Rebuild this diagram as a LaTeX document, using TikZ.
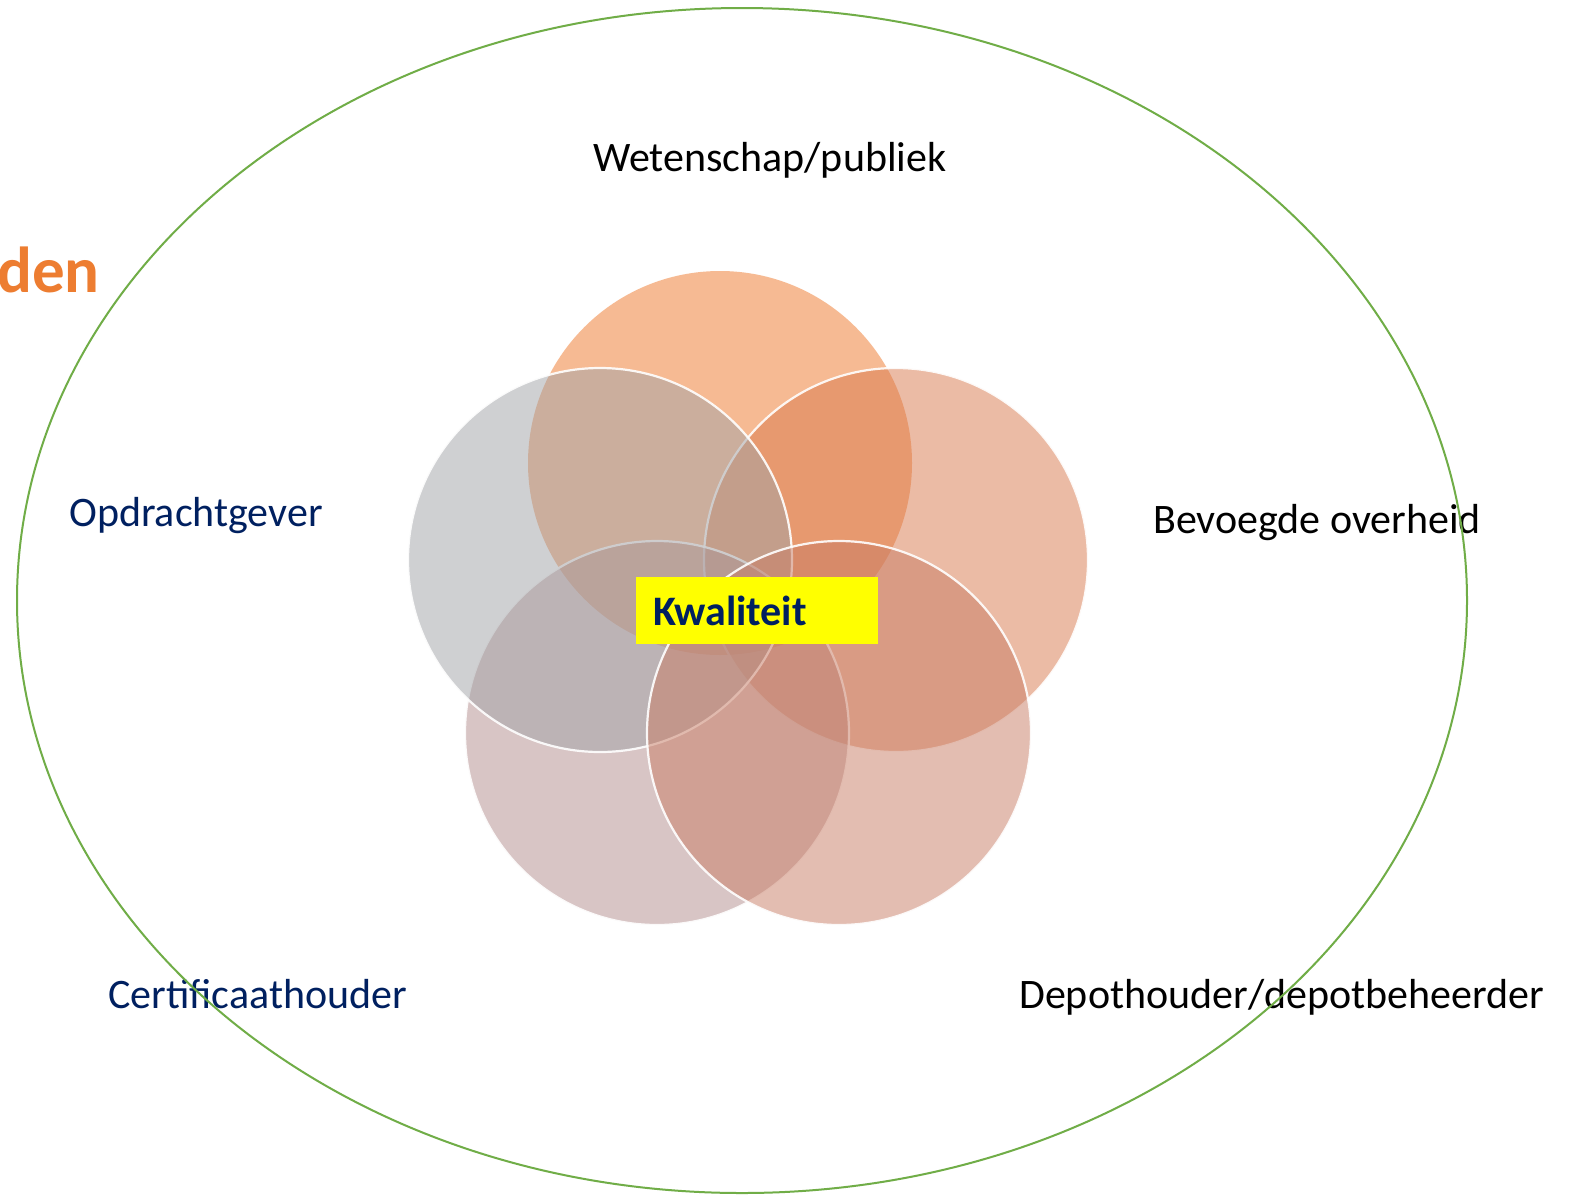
\documentclass[tikz,border=0pt]{standalone}
\usepackage{fontspec}
\setmainfont{Carlito}
\definecolor{cTop}{RGB}{239,119,41}
\definecolor{cGray}{RGB}{161,163,167}
\definecolor{cRight}{RGB}{217,121,77}
\definecolor{cBL}{RGB}{179,141,141}
\definecolor{cBR}{RGB}{201,125,101}
\definecolor{navy}{RGB}{0,32,96}
\definecolor{ogreen}{RGB}{112,173,71}
\definecolor{oorange}{RGB}{237,125,49}
\definecolor{kyellow}{RGB}{255,255,0}
\tikzset{
  venn/.style={fill=#1, fill opacity=0.5, draw=white, draw opacity=0.9, line width=2.2bp},
  lbl/.style={anchor=base west, inner sep=0pt, font=\fontsize{42bp}{50bp}\selectfont},
}
\begin{document}
\begin{tikzpicture}[x=1bp,y=-1bp]
\useasboundingbox (0,0) rectangle (1577,1201);
\fill[white] (0,0) rectangle (1577,1201);
% circles
\path[venn=cTop, draw=none] (720,463) circle[radius=192];
\path[venn=cRight] (896,560) circle[radius=192];
\path[venn=cBL] (657,733) circle[radius=192];
\path[venn=cGray] (600,560) circle[radius=192];
\path[venn=cBR] (839,733) circle[radius=192];
% center box
\node[fill=kyellow, minimum width=242bp, minimum height=67bp, inner sep=0pt] (box) at (757,610.5) {};
\node[anchor=base west, inner sep=0pt, text=navy, font=\fontsize{42bp}{50bp}\selectfont\bfseries] (kw) at (653,625) {Kwaliteit};
% labels
\node[lbl] (wet) at (593,171) {Wetenschap/publiek};
\node[lbl, text=navy] (opd) at (69,526) {Opdrachtgever};
\node[lbl] (bev) at (1153,533) {Bevoegde overheid};
\node[lbl, text=navy] (cer) at (108,1008) {Certificaathouder};
\node[lbl] (dep) at (1019,1008) {Depothouder/depotbeheerder};
\node[anchor=base east, inner sep=0pt, text=oorange, font=\fontsize{65bp}{72bp}\selectfont\bfseries] (den) at (100,292) {den};
% outer ellipse
\draw[ogreen, line width=2bp] (742,600.5) ellipse[x radius=725, y radius=592.5];
\end{tikzpicture}
\end{document}
